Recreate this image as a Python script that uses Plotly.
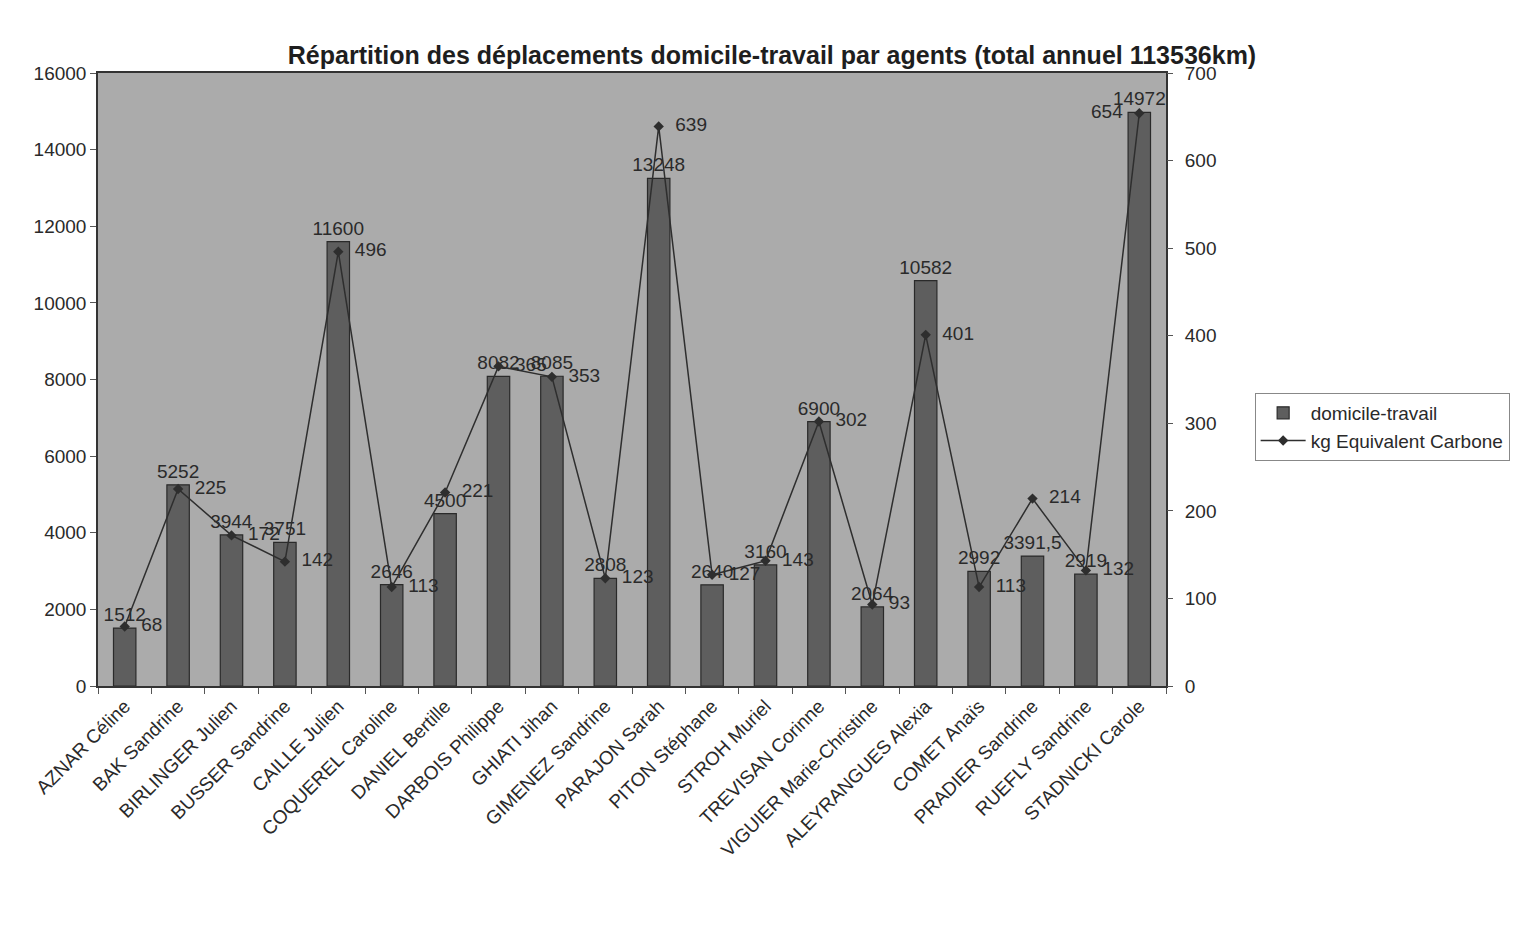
import plotly.graph_objects as go

agents = ["AZNAR Céline", "BAK Sandrine", "BIRLINGER Julien", "BUSSER Sandrine",
          "CAILLE Julien", "COQUEREL Caroline", "DANIEL Bertille", "DARBOIS Philippe",
          "GHIATI Jihan", "GIMENEZ Sandrine", "PARAJON Sarah", "PITON Stéphane",
          "STROH Muriel", "TREVISAN Corinne", "VIGUIER Marie-Christine",
          "ALEYRANGUES Alexia", "COMET Anaïs", "PRADIER Sandrine", "RUEFLY Sandrine",
          "STADNICKI Carole"]
km = [1512, 5252, 3944, 3751, 11600, 2646, 4500, 8082, 8085, 2808, 13248, 2640,
      3160, 6900, 2064, 10582, 2992, 3391.5, 2919, 14972]
carbone = [68, 225, 172, 142, 496, 113, 221, 365, 353, 123, 639, 127, 143, 302,
           93, 401, 113, 214, 132, 654]

def fmt(v):
    return (f"{v:g}").replace(".", ",")

font_family = "Liberation Sans, Arial, sans-serif"

# label placement for the line: right of the marker, except the last one (left)
line_text_pos = ["middle right"] * (len(agents) - 1) + ["middle left"]
line_text = ["  " + fmt(v) for v in carbone[:-1]] + [fmt(carbone[-1]) + "  "]

fig = go.Figure()
fig.add_trace(go.Bar(
    x=agents, y=km, name="domicile-travail",
    marker=dict(color="#5e5e5e", line=dict(color="#2a2a2a", width=1.2)),
    width=0.42,
    text=[fmt(v) for v in km], textposition="outside", constraintext="none",
    textfont=dict(size=19, color="#2a2a2a", family=font_family),
    cliponaxis=False,
))
fig.add_trace(go.Scatter(
    x=agents, y=carbone, name="kg Equivalent Carbone", yaxis="y2",
    mode="lines+markers+text",
    line=dict(color="#2e2e2e", width=1.5),
    marker=dict(symbol="diamond", size=8, color="#2e2e2e"),
    text=line_text, textposition=line_text_pos,
    textfont=dict(size=19, color="#2a2a2a", family=font_family),
    cliponaxis=False,
))

fig.update_layout(
    width=1518, height=945,
    paper_bgcolor="white", plot_bgcolor="#ababab",
    font=dict(family=font_family, size=19, color="#2a2a2a"),
    title=dict(text="<b>Répartition des déplacements domicile-travail par agents (total annuel 113536km)</b>",
               x=764 / 1518, xanchor="center", y=1 - 47 / 945, yanchor="middle",
               font=dict(size=25, color="#1e1e1e")),
    margin=dict(l=90, r=360, t=65, b=267, autoexpand=False),
    showlegend=True,
    legend=dict(x=1.083, y=0.478, xanchor="left", yanchor="top",
                bgcolor="white", bordercolor="#888888", borderwidth=1,
                font=dict(size=19, color="#2a2a2a"), tracegroupgap=2,
                itemwidth=45),
    xaxis=dict(tickangle=-45, tickfont=dict(size=19), showline=True,
               range=[-0.5, len(agents) - 0.5],
               linecolor="#333333", linewidth=1.5, mirror=True,
               ticks="outside", tickson="boundaries", ticklen=6,
               tickcolor="#555555", showgrid=False, automargin=False),
    yaxis=dict(range=[0, 16000], dtick=2000, tickformat="d", showgrid=False,
               showline=True, linecolor="#333333", linewidth=1.5, mirror=True,
               ticks="outside", ticklen=6, tickcolor="#555555",
               tickfont=dict(size=19), zeroline=False, automargin=False),
    yaxis2=dict(range=[0, 700], dtick=100, overlaying="y", side="right",
                showgrid=False, ticks="outside", ticklen=6, tickcolor="#555555",
                ticklabelstandoff=8,
                tickfont=dict(size=19), zeroline=False, showline=False,
                automargin=False),
)

fig.write_html("out.html")
